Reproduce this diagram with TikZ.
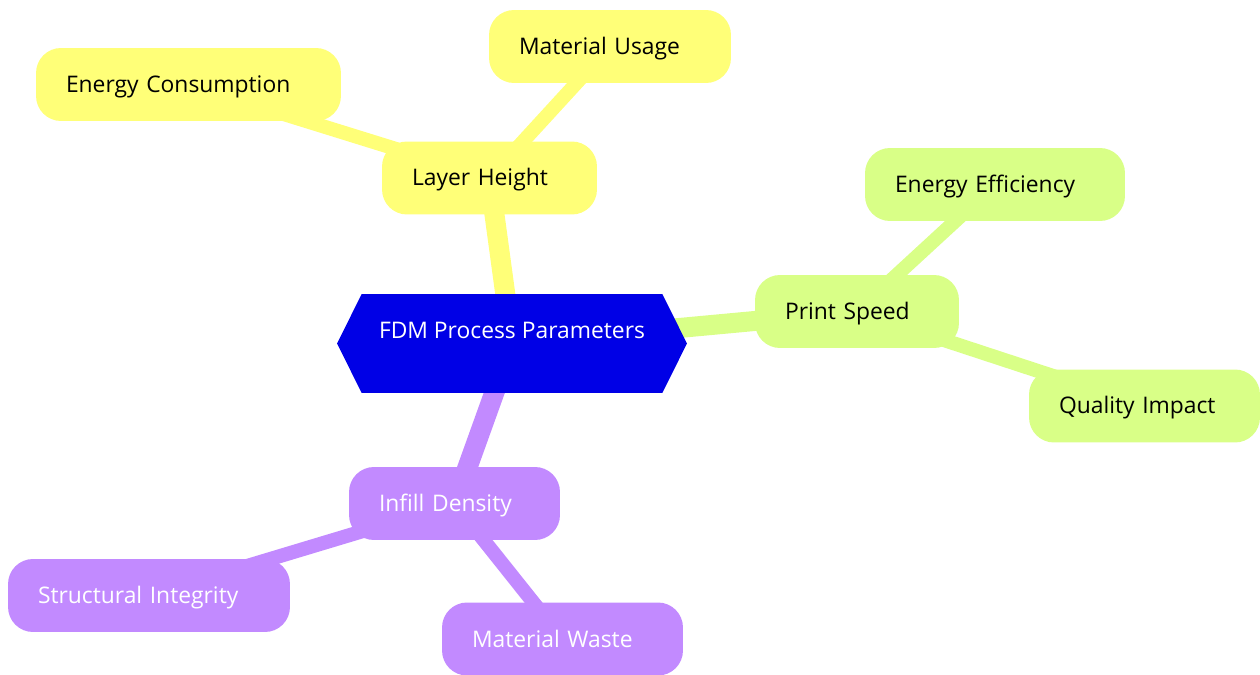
\documentclass[tikz,border=0pt]{standalone}
\usepackage{fontspec}
\setmainfont{Open Sans}
\usepackage{tikz}
\usetikzlibrary{shapes.symbols}
\usetikzlibrary{backgrounds}
\definecolor{rootblue}{HTML}{0000E6}
\definecolor{ylw}{HTML}{FFFF78}
\definecolor{grn}{HTML}{D9FF87}
\definecolor{prp}{HTML}{C28AFF}
\tikzset{topic/.style={signal, signal to=west and east, signal pointer angle=127,
  fill=rootblue, text=white, minimum width=7cm, minimum height=1.98cm,
  inner sep=0pt, text height=0.24cm, text depth=0.44cm},
%boxes round the topic, text set flush left
idea/.style={rounded corners=0.5cm, inner xsep=0.6cm, inner ysep=0pt,
  minimum height=1.46cm, align=left, text width=#1,
  text height=0.43cm, text depth=0.11cm},
idea/.default={3cm},
link/.style={line width=0.28cm},
trunk/.style={line width=0.4cm}}

\begin{document}
\begin{tikzpicture}[x=0.02cm, y=-0.02cm, font=\fontsize{13}{15.6}\selectfont]
\useasboundingbox (0,0) rectangle (1260,675);

% centre
\node[topic] (fdm) at (512,343.5) {FDM Process Parameters};

% layer height
\node[idea=3.1cm, fill=ylw] (layer) at (489.5,178) {Layer Height};
\node[idea=4.9cm, fill=ylw] (energy) at (188.5,84.5) {Energy Consumption};
\node[idea=3.64cm, fill=ylw] (usage) at (610,46.5) {Material Usage};

% print speed
\node[idea=2.88cm, fill=grn] (speed) at (857,311.5) {Print Speed};
\node[idea=4.0cm, fill=grn] (effic) at (995,184.5) {Energy Efficiency};
\node[idea=3.42cm, fill=grn] (quality) at (1144.5,406) {Quality Impact};

% infill density
\node[idea=3.02cm, fill=prp, text=white] (infill) at (454.5,503.5) {Infill Density};
\node[idea=4.44cm, fill=prp, text=white] (integ) at (149,595.5) {Structural Integrity};
\node[idea=3.62cm, fill=prp, text=white] (waste) at (562.5,639) {Material Waste};

\begin{scope}[on background layer]
\foreach \b/\c in {layer/ylw, speed/grn, infill/prp}
    \draw[trunk, \c] (fdm.center) -- (\b.center);
\foreach \a/\b/\c in {layer/energy/ylw, layer/usage/ylw, speed/effic/grn,
    speed/quality/grn, infill/integ/prp, infill/waste/prp}
    \draw[link, \c] (\a.center) -- (\b.center);
\end{scope}

\end{tikzpicture}
\end{document}
